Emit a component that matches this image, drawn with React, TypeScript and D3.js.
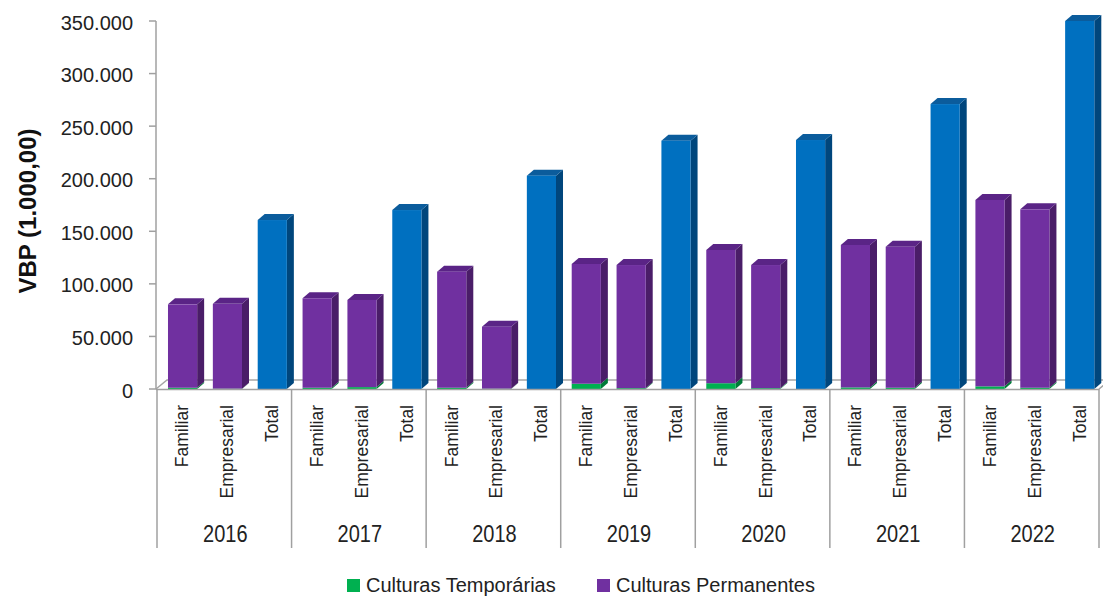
import { useEffect, useRef } from "react";
import * as d3 from "d3";

// values (VBP in 1.000,00)
const years = ["2016", "2017", "2018", "2019", "2020", "2021", "2022"];
const subgroups = ["Familiar", "Empresarial", "Total"];
const temporariasFamiliar = [1200, 1200, 1200, 5000, 5500, 1500, 2500];
const temporariasEmpresarial = [300, 1800, 300, 800, 800, 1200, 1200];
const permanentesFamiliar = [79300, 85100, 110400, 113900, 126700, 135500, 177300];
const permanentesEmpresarial = [80700, 82900, 59000, 117100, 117100, 134100, 169700];
const totals = [160700, 170200, 202900, 236200, 236800, 271000, 350000];
const yTicks = [0, 50000, 100000, 150000, 200000, 250000, 300000, 350000];
const legendItems = ["Culturas Temporárias", "Culturas Permanentes"];

const W = 1103;
const H = 596;

// front / side / top shades
const shades = {
  temp: { front: "#00B050", side: "#007a38", top: "#00994a" },
  perm: { front: "#7030A0", side: "#4a1d68", top: "#5a2486" },
  total: { front: "#0070C0", side: "#00467c", top: "#0b5c9c" },
};

export default function App() {
  const ref = useRef<SVGSVGElement>(null);

  useEffect(() => {
    const svg = d3.select(ref.current);
    svg.selectAll("*").remove();

    const left = 156;
    const right = 1099;
    const top = 21;
    const bottom = 389;
    const depthX = 7;
    const depthY = -6;

    const keys: string[] = [];
    years.forEach(y => subgroups.forEach(s => keys.push(`${y}|${s}`)));

    const x = d3.scaleBand().domain(keys).range([left + 1, right]).padding(0);
    const xYear = d3.scaleBand().domain(years).range([left + 1, right]).padding(0);
    const yScale = d3.scaleLinear().domain([0, 350000]).range([bottom, top]);

    const step = x.step();
    const barW = step * 0.65;
    const barOff = step * 0.245;

    // floor
    svg.append("path")
      .attr("d", `M${left},${bottom} L${left + 11},${bottom - 9} L${right + 11},${bottom - 9} L${right},${bottom}`)
      .attr("fill", "#fff")
      .attr("stroke", "#a6a6a6")
      .attr("stroke-width", 1.5);

    // y axis
    const yAxis = svg.append("g");
    yAxis.append("line")
      .attr("x1", left).attr("x2", left)
      .attr("y1", top).attr("y2", bottom)
      .attr("stroke", "#a0a0a0").attr("stroke-width", 1.5);
    yTicks.forEach(t => {
      yAxis.append("line")
        .attr("x1", left - 7).attr("x2", left)
        .attr("y1", yScale(t)).attr("y2", yScale(t))
        .attr("stroke", "#a0a0a0").attr("stroke-width", 1.5);
      yAxis.append("text")
        .attr("x", 133)
        .attr("y", yScale(t) + 8.5)
        .attr("text-anchor", "end")
        .style("font-family", "'Liberation Sans', Arial, sans-serif")
        .style("font-size", "20px")
        .style("fill", "#222")
        .text(d3.format(",")(t).replace(/,/g, "."));
    });

    // y axis title
    svg.append("text")
      .attr("transform", `translate(36,211) rotate(-90)`)
      .attr("text-anchor", "middle")
      .style("font-family", "'Liberation Sans', Arial, sans-serif")
      .style("font-size", "24px")
      .style("font-weight", "bold")
      .style("fill", "#111")
      .text("VBP (1.000,00)");

    // 3D block helper
    const block = (g: any, x0: number, y0: number, y1: number, c: { front: string; side: string; top: string }, withTop: boolean) => {
      const x1 = x0 + barW;
      g.append("path")
        .attr("d", `M${x1},${y0} L${x1 + depthX},${y0 + depthY} L${x1 + depthX},${y1 + depthY} L${x1},${y1}Z`)
        .attr("fill", c.side);
      if (withTop) {
        g.append("path")
          .attr("d", `M${x0},${y0} L${x0 + depthX},${y0 + depthY} L${x1 + depthX},${y0 + depthY} L${x1},${y0}Z`)
          .attr("fill", c.top);
      }
      g.append("rect")
        .attr("x", x0).attr("y", y0)
        .attr("width", barW).attr("height", Math.max(0, y1 - y0))
        .attr("fill", c.front);
    };

    const bars = svg.append("g");
    years.forEach((yr, i) => {
      subgroups.forEach(sub => {
        const x0 = (x(`${yr}|${sub}`) as number) + barOff;
        if (sub === "Total") {
          block(bars, x0, yScale(totals[i]), yScale(0), shades.total, true);
        } else {
          const t = sub === "Familiar" ? temporariasFamiliar[i] : temporariasEmpresarial[i];
          const p = sub === "Familiar" ? permanentesFamiliar[i] : permanentesEmpresarial[i];
          block(bars, x0, yScale(t), yScale(0), shades.temp, false);
          block(bars, x0, yScale(t + p), yScale(t), shades.perm, true);
        }
      });
    });

    // x axis with two label levels
    const xAxis = svg.append("g");
    xAxis.append("line")
      .attr("x1", left).attr("x2", right)
      .attr("y1", bottom + 0.5).attr("y2", bottom + 0.5)
      .attr("stroke", "#a0a0a0").attr("stroke-width", 1.5);
    [...years.map(y => xYear(y) as number), right].forEach(px => {
      xAxis.append("line")
        .attr("x1", px).attr("x2", px)
        .attr("y1", bottom).attr("y2", 548)
        .attr("stroke", "#a0a0a0").attr("stroke-width", 1.5);
    });
    keys.forEach(k => {
      const cx = (x(k) as number) + step / 2 + 3;
      xAxis.append("text")
        .attr("transform", `translate(${cx},405) rotate(-90)`)
        .attr("text-anchor", "end")
        .attr("dominant-baseline", "central")
        .style("font-family", "'Liberation Sans', Arial, sans-serif")
        .style("font-size", "17.5px")
        .style("fill", "#222")
        .text(k.split("|")[1]);
    });
    years.forEach(yr => {
      xAxis.append("text")
        .attr("transform", `translate(${(xYear(yr) as number) + xYear.bandwidth() / 2 + 1},542) scale(1,1.15)`)
        .attr("text-anchor", "middle")
        .style("font-family", "'Liberation Sans', Arial, sans-serif")
        .style("font-size", "20px")
        .style("fill", "#222")
        .text(yr);
    });

    // legend
    const legend = svg.append("g");
    const legendX = [347, 597];
    const legendColors = [shades.temp.front, shades.perm.front];
    legendItems.forEach((name, i) => {
      legend.append("rect")
        .attr("x", legendX[i]).attr("y", 579)
        .attr("width", 13).attr("height", 13)
        .attr("fill", legendColors[i]);
      legend.append("text")
        .attr("x", legendX[i] + 19)
        .attr("y", 592)
        .style("font-family", "'Liberation Sans', Arial, sans-serif")
        .style("font-size", "20px")
        .style("fill", "#222")
        .text(name);
    });
  }, []);

  return (
    <svg
      ref={ref}
      width={W}
      height={H}
      style={{ position: "absolute", left: 0, top: 0, background: "#fff" }}
    />
  );
}
